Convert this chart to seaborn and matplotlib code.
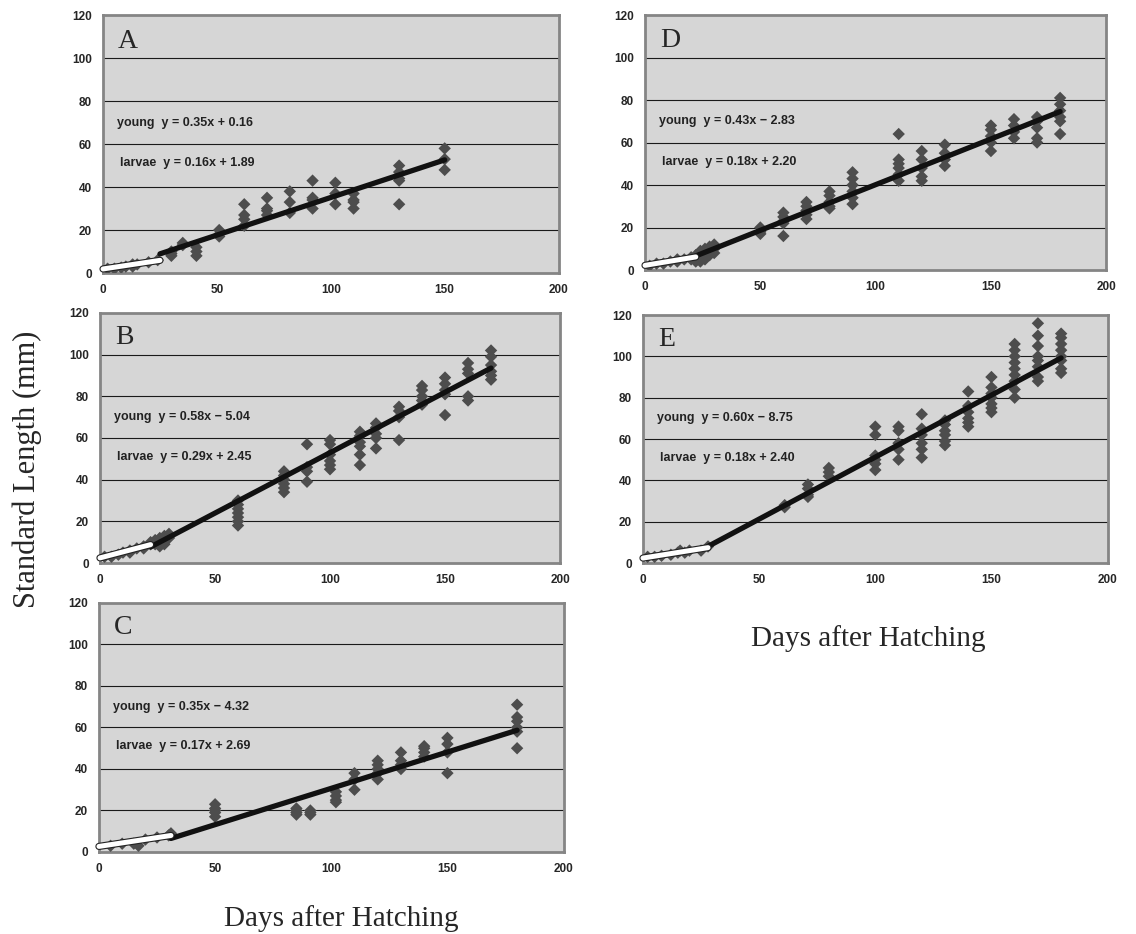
import numpy as np
import pandas as pd
import seaborn as sns
import matplotlib.pyplot as plt
import matplotlib.patheffects as pe

# ---- data ----
# panel A
a_days = [2, 5, 8, 10, 13, 15, 20, 24, 30, 35, 41, 51, 62, 72, 82, 92, 102, 110, 130, 150]
a_lens = [[2], [2], [2.5], [3], [4, 3], [4], [5], [6], [9, 10, 8], [14, 13], [12, 10, 8],
          [20, 18, 17], [32, 27, 25, 22], [35, 30, 29, 27], [38, 33, 28], [43, 35, 34, 30],
          [42, 37, 32], [37, 34, 33, 30], [50, 47, 44, 43, 32], [58, 53, 48]]
# panel B
b_days = [2, 5, 8, 10, 13, 16, 19, 22, 24, 26, 28, 30, 60, 80, 90, 100, 113, 120, 130, 140, 150, 160, 170]
b_lens = [[3], [3], [4], [5], [6, 5], [7], [8, 7], [9, 10], [11, 9], [12, 10, 8], [13, 11, 9], [14, 12],
          [30, 28, 26, 24, 22, 20, 18], [44, 42, 40, 38, 36, 34], [57, 46, 44, 39],
          [59, 57, 52, 49, 47, 45], [63, 61, 58, 56, 52, 47], [67, 65, 62, 60, 55],
          [75, 73, 70, 59], [85, 83, 80, 78, 76], [89, 86, 83, 81, 71], [96, 93, 91, 80, 78],
          [102, 99, 95, 92, 90, 88]]
# panel C
c_days = [5, 10, 15, 17, 20, 25, 30, 31, 50, 85, 91, 102, 110, 120, 130, 140, 150, 180]
c_lens = [[3], [4], [4], [3], [6], [7], [8], [9], [23, 21, 20, 19, 17], [21, 20, 19, 18],
          [20, 19, 18], [29, 27, 25, 24], [38, 35, 30], [44, 42, 40, 38, 35], [48, 44, 42, 40],
          [51, 50, 48, 46], [55, 52, 48, 38], [71, 65, 63, 60, 58, 50]]
# panel D
d_days = [2, 5, 8, 11, 14, 17, 20, 22, 24, 26, 28, 30, 50, 60, 70, 80, 90, 110, 120, 130, 150, 160, 170, 180]
d_lens = [[2], [3], [3], [4], [4, 5], [5], [6, 5], [7, 5, 4], [9, 7, 5, 4], [10, 8, 6, 5],
          [11, 9, 7], [12, 10, 8], [20, 18, 17], [27, 25, 23, 22, 16], [32, 30, 28, 26, 24],
          [37, 35, 32, 30, 29], [46, 43, 40, 37, 34, 31], [64, 52, 50, 48, 45, 42],
          [56, 52, 48, 44, 42], [59, 55, 52, 49], [68, 66, 63, 60, 56], [71, 68, 65, 62],
          [72, 70, 67, 62, 60], [81, 78, 75, 72, 70, 64]]
# panel E
e_days = [2, 5, 8, 12, 15, 16, 18, 20, 25, 28, 61, 71, 80, 100, 110, 120, 130, 140, 150, 160, 170, 180]
e_lens = [[3], [3], [3.5], [4], [5], [6], [5], [6], [6], [8], [28, 27], [38, 36, 33, 32],
          [46, 44, 42], [66, 62, 52, 50, 48, 45], [66, 64, 58, 55, 50], [72, 65, 62, 58, 55, 51],
          [69, 67, 64, 62, 59, 57], [83, 76, 73, 70, 68, 66], [90, 85, 82, 80, 77, 75, 73],
          [106, 103, 100, 97, 94, 91, 88, 84, 80], [116, 110, 105, 100, 98, 95, 90, 88],
          [111, 109, 106, 103, 100, 98, 94, 92]]

panels = ['A', 'B', 'C', 'D', 'E']
young_slope = [0.35, 0.58, 0.35, 0.43, 0.60]
young_icpt = [0.16, -5.04, -4.32, -2.83, -8.75]
larvae_slope = [0.16, 0.29, 0.17, 0.18, 0.18]
larvae_icpt = [1.89, 2.45, 2.69, 2.20, 2.40]
split_day = [25, 22, 31, 22, 28]      # where larvae line hands over to young line
last_day = [150, 170, 180, 180, 180]
young_txt = ['young  y = 0.35x + 0.16', 'young  y = 0.58x \u2212 5.04', 'young  y = 0.35x \u2212 4.32',
             'young  y = 0.43x \u2212 2.83', 'young  y = 0.60x \u2212 8.75']
larvae_txt = ['larvae  y = 0.16x + 1.89', 'larvae  y = 0.29x + 2.45', 'larvae  y = 0.17x + 2.69',
              'larvae  y = 0.18x + 2.20', 'larvae  y = 0.18x + 2.40']

days_all = [a_days, b_days, c_days, d_days, e_days]
lens_all = [a_lens, b_lens, c_lens, d_lens, e_lens]

sns.set_style('white')
plt.rcParams['font.family'] = ['Liberation Sans', 'DejaVu Sans']

fig = plt.figure(figsize=(11.36, 9.34), dpi=100)
boxes = [
    [0.0907, 0.7077, 0.401, 0.276],
    [0.0880, 0.3972, 0.405, 0.2677],
    [0.0871, 0.0878, 0.409, 0.2666],
    [0.5678, 0.7109, 0.406, 0.273],
    [0.5660, 0.3972, 0.409, 0.2655],
]

for i, p in enumerate(panels):
    ax = fig.add_axes(boxes[i])
    ax.set_facecolor('#d6d6d6')
    rows = [(d, v) for d, vals in zip(days_all[i], lens_all[i]) for v in vals]
    df = pd.DataFrame(rows, columns=['day', 'length'])
    sns.scatterplot(data=df, x='day', y='length', marker='D', s=40, color='#4d4d4d',
                    edgecolor='none', ax=ax, zorder=3)

    xl = np.array([0, split_day[i]])
    larv = pd.DataFrame({'day': xl, 'length': larvae_slope[i] * xl + larvae_icpt[i]})
    xy = np.array([split_day[i], last_day[i]])
    yng = pd.DataFrame({'day': xy, 'length': young_slope[i] * xy + young_icpt[i]})
    sns.lineplot(data=yng, x='day', y='length', color='#111111', lw=3.8, ax=ax, zorder=4,
                 solid_capstyle='round')
    sns.lineplot(data=larv, x='day', y='length', color='white', lw=3.6, ax=ax, zorder=5,
                 solid_capstyle='round', clip_on=False,
                 path_effects=[pe.Stroke(linewidth=5.2, foreground='#222222'), pe.Normal()])

    ax.set_xlim(0, 200)
    ax.set_ylim(0, 120)
    ax.set_xticks([0, 50, 100, 150, 200])
    ax.set_yticks([0, 20, 40, 60, 80, 100, 120])
    for g in [20, 40, 60, 80, 100]:
        ax.axhline(g, color='#1a1a1a', lw=0.8, zorder=1)
    ax.tick_params(length=0, labelsize=8.5, pad=8)
    for lab in ax.get_xticklabels() + ax.get_yticklabels():
        lab.set_fontweight('bold')
    for s in ax.spines.values():
        s.set_color('#858585')
        s.set_linewidth(2)
    ax.set_xlabel('')
    ax.set_ylabel('')

    ax.text(6.5, 108, p, family='Liberation Serif', fontsize=20, va='center', ha='left')
    ax.text(6, 70, young_txt[i], fontsize=9, fontweight='bold', color='#222222', va='center')
    ax.text(7.5, 51, larvae_txt[i], fontsize=9, fontweight='bold', color='#222222', va='center')

fig.text(0.024, 0.497, 'Standard Length (mm)', rotation=90, family='Liberation Serif',
         fontsize=22, va='center', ha='center')
fig.text(0.30, 0.017, 'Days after Hatching', family='Liberation Serif', fontsize=21,
         va='center', ha='center')
fig.text(0.764, 0.316, 'Days after Hatching', family='Liberation Serif', fontsize=21,
         va='center', ha='center')

fig.savefig('out.png', dpi=100)
